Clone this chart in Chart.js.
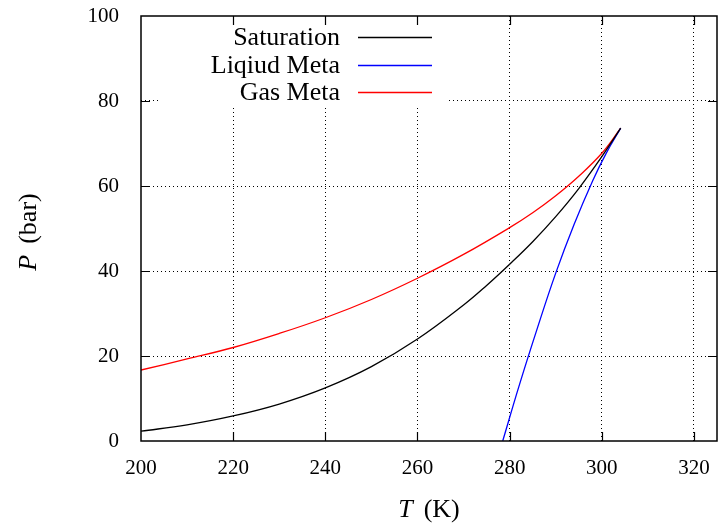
<!DOCTYPE html>
<html>
<head>
<meta charset="utf-8">
<script src="https://cdn.jsdelivr.net/npm/chart.js@4.4.1/dist/chart.umd.min.js"></script>
<style>
  html, body { margin: 0; padding: 0; background: #fff; }
  #wrap { width: 718px; height: 531px; }
</style>
</head>
<body>
<div id="wrap"><canvas id="chart" width="718" height="531"></canvas></div>
<script>
// values
const satT = [200, 210, 220, 230, 240, 250, 260, 270, 275, 280, 285, 290, 295, 300, 304.1];
const satP = [2.3, 3.8, 5.9, 8.7, 12.5, 17.5, 24.0, 32.0, 36.6, 41.6, 46.9, 52.8, 59.4, 66.9, 73.6];

const gasT = [200, 210, 220, 230, 240, 250, 260, 270, 280, 285, 290, 295, 300, 304.1];
const gasP = [16.7, 19.3, 22.0, 25.3, 29.0, 33.3, 38.3, 43.9, 50.2, 53.7, 57.7, 62.3, 67.7, 73.6];

const liqT = [278.5, 282, 286, 290, 294, 298, 301, 304.1];
const liqP = [0, 12.8, 26.5, 39.5, 51, 61.2, 67.8, 73.6];

const xTicks = [200, 220, 240, 260, 280, 300, 320];
const yTicks = [0, 20, 40, 60, 80, 100];

const legendItems = [
    { label: 'Saturation', color: '#000000' },
    { label: 'Liqiud Meta', color: '#0000ff' },
    { label: 'Gas Meta', color: '#ff0000' }
];

const SERIF = '"Liberation Serif", "DejaVu Serif", serif';
Chart.defaults.font.family = SERIF;
Chart.defaults.color = '#000';

function pts(xs, ys) {
    return xs.map((x, i) => ({ x: x, y: ys[i] }));
}

function gridColor(ctx) {
    const v = ctx.tick && ctx.tick.value;
    const s = ctx.scale;
    if (v === s.min || v === s.max) return 'rgba(0,0,0,0)';
    return '#000';
}

// gnuplot-like frame, inward ticks, key and axis titles
const gnuplotLook = {
    id: 'gnuplotLook',
    beforeDatasetsDraw(chart) {
        // opaque key box
        const ctx = chart.ctx;
        ctx.save();
        ctx.fillStyle = '#fff';
        ctx.fillRect(158, chart.chartArea.top + 1, 290, 89);
        ctx.restore();
    },
    afterDraw(chart) {
        const ctx = chart.ctx;
        const a = chart.chartArea;
        const xs = chart.scales.x, ys = chart.scales.y;
        const tl = 9;
        ctx.save();
        ctx.strokeStyle = '#000';
        ctx.lineWidth = 1.5;
        ctx.strokeRect(a.left, a.top, a.right - a.left, a.bottom - a.top);
        ctx.lineWidth = 1.2;
        ctx.beginPath();
        xTicks.forEach(v => {
            const px = Math.round(xs.getPixelForValue(v)) + 0.5;
            if (px <= a.left + 1 || px >= a.right - 1) return;
            ctx.moveTo(px, a.bottom); ctx.lineTo(px, a.bottom - tl);
            ctx.moveTo(px, a.top); ctx.lineTo(px, a.top + tl);
        });
        yTicks.forEach(v => {
            const py = Math.round(ys.getPixelForValue(v)) + 0.5;
            if (py <= a.top + 1 || py >= a.bottom - 1) return;
            ctx.moveTo(a.left, py); ctx.lineTo(a.left + tl, py);
            ctx.moveTo(a.right, py); ctx.lineTo(a.right - tl, py);
        });
        ctx.stroke();

        // key
        ctx.font = '26px ' + SERIF;
        ctx.textBaseline = 'middle';
        ctx.textAlign = 'right';
        legendItems.forEach((it, i) => {
            const y = 37 + i * 27.7;
            ctx.fillStyle = '#000';
            ctx.fillText(it.label, 340, y + 1);
            ctx.strokeStyle = it.color;
            ctx.lineWidth = 1.3;
            ctx.beginPath();
            ctx.moveTo(358, Math.round(y) + 0.5);
            ctx.lineTo(432, Math.round(y) + 0.5);
            ctx.stroke();
        });

        // axis titles: italic variable + upright unit
        function title(italic, rest) {
            ctx.font = 'italic 26px ' + SERIF;
            const w1 = ctx.measureText(italic).width;
            ctx.font = '26px ' + SERIF;
            const w2 = ctx.measureText(rest).width;
            const gap = 11;
            const total = w1 + gap + w2;
            ctx.textAlign = 'left';
            ctx.textBaseline = 'middle';
            ctx.fillStyle = '#000';
            ctx.font = 'italic 26px ' + SERIF;
            ctx.fillText(italic, -total / 2, 0);
            ctx.font = '26px ' + SERIF;
            ctx.fillText(rest, -total / 2 + w1 + gap, 0);
        }
        ctx.save();
        ctx.translate((a.left + a.right) / 2, 510);
        title('T', '(K)');
        ctx.restore();
        ctx.save();
        ctx.translate(29, 232);
        ctx.rotate(-Math.PI / 2);
        title('P', '(bar)');
        ctx.restore();
        ctx.restore();
    }
};

new Chart(document.getElementById('chart'), {
    type: 'line',
    data: {
        datasets: [
            { label: 'Saturation', data: pts(satT, satP), borderColor: '#000000' },
            { label: 'Liqiud Meta', data: pts(liqT, liqP), borderColor: '#0000ff' },
            { label: 'Gas Meta', data: pts(gasT, gasP), borderColor: '#ff0000' }
        ]
    },
    options: {
        responsive: false,
        animation: false,
        devicePixelRatio: 1,
        layout: { padding: { left: 0, top: 16, right: 1, bottom: 0 } },
        elements: {
            point: { radius: 0 },
            line: { borderWidth: 1.3, tension: 0.4, fill: false }
        },
        plugins: {
            legend: { display: false },
            tooltip: { enabled: false }
        },
        scales: {
            x: {
                type: 'linear',
                min: 200,
                max: 325,
                afterBuildTicks: s => { s.ticks = xTicks.map(v => ({ value: v })); },
                afterFit: s => { s.height = 90; s.paddingLeft = 0; s.paddingRight = 0; },
                grid: { color: gridColor, lineWidth: 1, drawTicks: false },
                border: { display: false, dash: [1, 3] },
                ticks: { font: { size: 21 }, color: '#000', padding: 15, maxRotation: 0 }
            },
            y: {
                type: 'linear',
                min: 0,
                max: 100,
                afterBuildTicks: s => { s.ticks = yTicks.map(v => ({ value: v })); },
                afterFit: s => { s.width = 141; s.paddingTop = 0; s.paddingBottom = 0; },
                grid: { color: gridColor, lineWidth: 1, drawTicks: false },
                border: { display: false, dash: [1, 3] },
                ticks: { font: { size: 21 }, color: '#000', padding: 22 }
            }
        }
    },
    plugins: [gnuplotLook]
});
</script>
</body>
</html>
